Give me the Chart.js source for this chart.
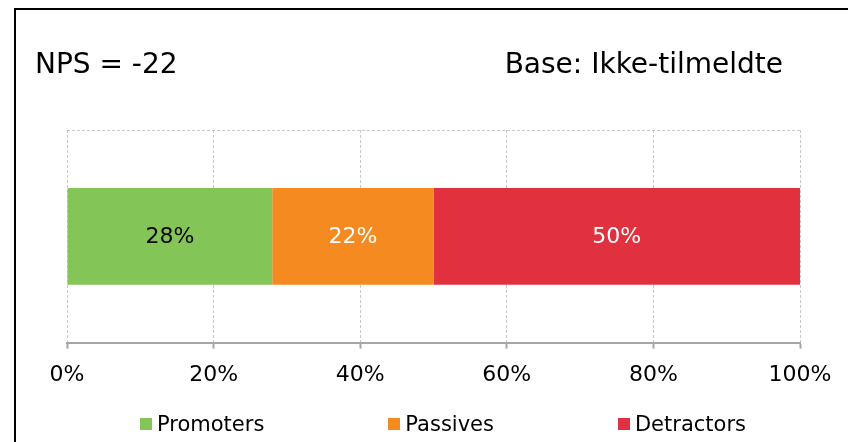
<!DOCTYPE html>
<html><head><meta charset="utf-8">
<script src="https://cdn.jsdelivr.net/npm/chart.js@4.4.0/dist/chart.umd.min.js"></script>
<style>
html,body{margin:0;padding:0;width:848px;height:442px;overflow:hidden;background:#fff;font-family:"DejaVu Sans",Verdana,sans-serif;}
#frame{position:absolute;left:14px;top:8px;width:900px;height:500px;border:2px solid #000;box-sizing:border-box;}
#wrap{position:absolute;left:0;top:0;width:848px;height:442px;}
.title{position:absolute;font-size:28px;color:#000;line-height:1;white-space:nowrap;}
#legend{position:absolute;left:140px;top:412px;display:flex;gap:124px;font-size:21px;line-height:24px;color:#000;}
.item{display:flex;align-items:center;white-space:nowrap;}
.sw{width:12px;height:12px;margin-right:5px;}
</style></head>
<body>
<div id="frame"></div>
<div id="wrap"><canvas id="c" width="848" height="442"></canvas></div>
<div class="title" id="t1" style="left:35px;top:50px;">NPS = -22</div>
<div class="title" id="t2" style="right:65px;top:50px;">Base: Ikke-tilmeldte</div>
<div id="legend"></div>
<script>
const categories = ['Ikke-tilmeldte'];
const seriesNames = ['Promoters', 'Passives', 'Detractors'];
const promoters = [28];
const passives = [22];
const detractors = [50];
const xTickValues = [0, 20, 40, 60, 80, 100];
const seriesColors = ['#83C556', '#F58A21', '#E2313E'];
const labelColors = ['#000000', '#FFFFFF', '#FFFFFF'];

const seriesData = [promoters, passives, detractors];
const FONT = '"DejaVu Sans", Verdana, sans-serif';

const barLabels = {
  id: 'barLabels',
  afterDatasetsDraw(chart) {
    const ctx = chart.ctx;
    ctx.save();
    ctx.font = '22px ' + FONT;
    ctx.textAlign = 'center';
    ctx.textBaseline = 'middle';
    chart.data.datasets.forEach((ds, i) => {
      const meta = chart.getDatasetMeta(i);
      meta.data.forEach((el, j) => {
        const p = el.getProps(['x', 'y', 'base'], true);
        ctx.fillStyle = labelColors[i];
        ctx.fillText(ds.data[j] + '%', (p.x + p.base) / 2, p.y + 1);
      });
    });
    ctx.restore();
  }
};

new Chart(document.getElementById('c'), {
  type: 'bar',
  data: {
    labels: categories,
    datasets: seriesNames.map((n, i) => ({
      label: n,
      data: seriesData[i],
      backgroundColor: seriesColors[i],
      borderWidth: 0,
      barPercentage: 0.455,
      categoryPercentage: 1
    }))
  },
  options: {
    indexAxis: 'y',
    responsive: false,
    animation: false,
    layout: { padding: { top: 130, left: 67, right: 48, bottom: 41 } },
    plugins: { legend: { display: false }, tooltip: { enabled: false }, title: { display: false } },
    scales: {
      x: {
        stacked: true,
        min: 0, max: 100,
        afterBuildTicks(scale) { scale.ticks = xTickValues.map(v => ({ value: v })); },
        ticks: { callback: v => v + '%', color: '#000', font: { family: FONT, size: 22 }, padding: 13, maxRotation: 0 },
        grid: { color: '#c8c8c8', lineWidth: 1, tickColor: '#a6a6a6', tickWidth: 2, tickLength: 6, tickBorderDash: [] },
        border: { display: true, color: '#a6a6a6', width: 2, dash: [3, 2] }
      },
      y: {
        stacked: true,
        ticks: { display: false },
        grid: { color: '#c8c8c8', lineWidth: 1, drawTicks: false, offset: true },
        border: { display: false, dash: [3, 2] }
      }
    }
  },
  plugins: [barLabels]
});

const lg = document.getElementById('legend');
seriesNames.forEach((n, i) => {
  const it = document.createElement('div'); it.className = 'item';
  const sw = document.createElement('span'); sw.className = 'sw'; sw.style.background = seriesColors[i];
  const tx = document.createElement('span'); tx.textContent = n;
  it.appendChild(sw); it.appendChild(tx); lg.appendChild(it);
});
</script>
</body></html>
